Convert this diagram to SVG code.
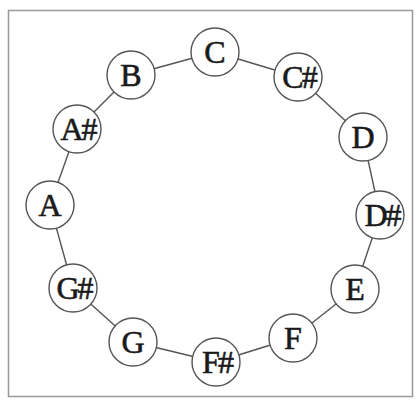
<svg xmlns="http://www.w3.org/2000/svg" width="417" height="401" viewBox="0 0 417 401">
<style>
.n circle{fill:#fff;stroke:#555;stroke-width:1.4}
.n text{font-family:"Liberation Serif","Times New Roman",serif;font-size:32px;fill:#1a1a1a;stroke:#1a1a1a;stroke-width:0.6;text-anchor:middle}
.n text.s{letter-spacing:-2px}
.e line{stroke:#555;stroke-width:1.4}
</style>
<rect x="8.5" y="10.5" width="404" height="386" fill="#fff" stroke="#999" stroke-width="1.5"/>
<g id="connectors" class="e">
<line x1="215" y1="52" x2="298" y2="77"/>
<line x1="298" y1="77" x2="363" y2="137"/>
<line x1="363" y1="137" x2="380" y2="215"/>
<line x1="380" y1="215" x2="355" y2="289"/>
<line x1="355" y1="289" x2="293" y2="338"/>
<line x1="293" y1="338" x2="216" y2="362"/>
<line x1="216" y1="362" x2="133" y2="342"/>
<line x1="133" y1="342" x2="73" y2="288"/>
<line x1="73" y1="288" x2="50" y2="205"/>
<line x1="50" y1="205" x2="77" y2="129"/>
<line x1="77" y1="129" x2="131" y2="75"/>
<line x1="131" y1="75" x2="215" y2="52"/>
</g>
<g id="C" class="n"><circle cx="215" cy="52" r="24"/><text x="215" y="63">C</text></g>
<g id="Cs" class="n"><circle cx="298" cy="77" r="24"/><text class="s" x="299" y="88">C#</text></g>
<g id="D" class="n"><circle cx="363" cy="137" r="24"/><text x="363" y="148">D</text></g>
<g id="Ds" class="n"><circle cx="380" cy="215" r="24"/><text class="s" x="382" y="226">D#</text></g>
<g id="E" class="n"><circle cx="355" cy="289" r="24"/><text x="355" y="300">E</text></g>
<g id="F" class="n"><circle cx="293" cy="338" r="24"/><text x="293" y="349">F</text></g>
<g id="Fs" class="n"><circle cx="216" cy="362" r="24"/><text class="s" x="217" y="373">F#</text></g>
<g id="G" class="n"><circle cx="133" cy="342" r="24"/><text x="133" y="353">G</text></g>
<g id="Gs" class="n"><circle cx="73" cy="288" r="24"/><text class="s" x="74" y="299">G#</text></g>
<g id="A" class="n"><circle cx="50" cy="205" r="24"/><text x="50" y="216">A</text></g>
<g id="As" class="n"><circle cx="77" cy="129" r="24"/><text class="s" x="78" y="140">A#</text></g>
<g id="B" class="n"><circle cx="131" cy="75" r="24"/><text x="131" y="86">B</text></g>
</svg>
